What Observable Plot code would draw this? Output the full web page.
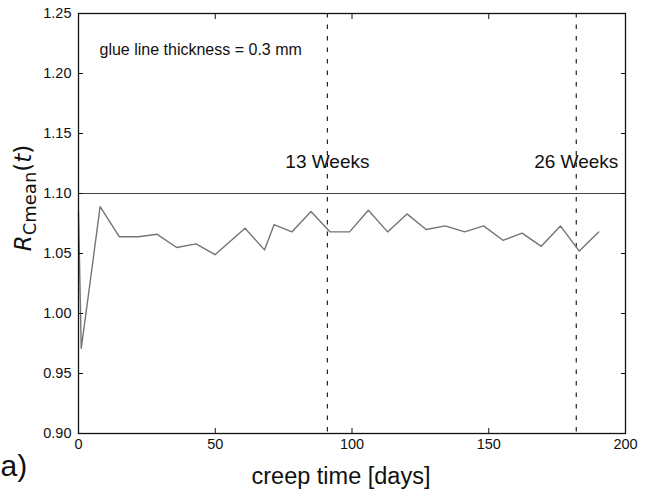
<!DOCTYPE html>
<html>
<head>
<meta charset="utf-8">
<script src="https://cdn.jsdelivr.net/npm/d3@7"></script>
<script src="https://cdn.jsdelivr.net/npm/@observablehq/plot@0.6"></script>
<style>
  html, body { margin: 0; padding: 0; background: #fff; }
</style>
</head>
<body>
<div id="chart"></div>
<script>
// ---- data ----
const days = [0, 1, 3.6, 7.9, 14.9, 21.9, 28.8, 35.9, 43.0, 49.9, 60.9, 68.0, 71.5, 78.0, 85.0, 92.0, 99.1, 106.0, 113.0, 120.1, 127.1, 134.1, 141.2, 148.1, 155.2, 162.2, 169.2, 176.2, 183.1, 190.2];
const rMean = [1.085, 0.971, 1.015, 1.089, 1.064, 1.064, 1.066, 1.055, 1.058, 1.049, 1.071, 1.053, 1.074, 1.068, 1.085, 1.068, 1.068, 1.086, 1.068, 1.083, 1.070, 1.073, 1.068, 1.073, 1.061, 1.067, 1.056, 1.073, 1.052, 1.068];
const refLevel = [1.10];
const weekDays = [91, 182];
const weekLabels = ["13 Weeks", "26 Weeks"];
const xTicks = [0, 50, 100, 150, 200];
const yTicks = [0.90, 0.95, 1.00, 1.05, 1.10, 1.15, 1.20, 1.25];
const annotation = ["glue line thickness = 0.3 mm"];
const xLabel = ["creep time [days]"];
const panelLabel = ["a)"];

const series = days.map((d, i) => ({day: d, r: rMean[i]}));
const weeks = weekDays.map((d, i) => ({day: d, label: weekLabels[i]}));

const chart = Plot.plot({
  width: 650,
  height: 497,
  marginLeft: 78,
  marginRight: 25,
  marginTop: 13,
  marginBottom: 64,
  style: {fontFamily: "'Liberation Sans', Arial, sans-serif", fontSize: "14.5px", color: "#111", background: "#fff"},
  x: {domain: [0, 200]},
  y: {domain: [0.90, 1.25]},
  marks: [
    Plot.ruleY(refLevel, {stroke: "#444", strokeWidth: 1.1}),
    Plot.ruleX(weekDays, {stroke: "#222", strokeWidth: 1.2, strokeDasharray: "4.5,7"}),
    Plot.line(series, {x: "day", y: "r", stroke: "#747474", strokeWidth: 1.4}),
    Plot.text(weeks, {x: "day", text: "label", frameAnchor: "top", dy: 141, fontSize: 19, fill: "#111"}),
    Plot.text(annotation, {text: d => d, frameAnchor: "top-left", dx: 21, dy: 30, textAnchor: "start", fontSize: 16, fill: "#111"}),
    Plot.axisX({ticks: xTicks, tickSize: -5, tickPadding: 10, tickFormat: d => String(d), label: null, fontSize: 14.5}),
    Plot.axisX({anchor: "top", ticks: xTicks, tickSize: -5, tickFormat: () => "", label: null}),
    Plot.axisY({ticks: yTicks, tickSize: -5, tickPadding: 12, tickFormat: d3.format(".2f"), label: null, fontSize: 14.5}),
    Plot.axisY({anchor: "right", ticks: yTicks, tickSize: -5, tickFormat: () => "", label: null}),
    Plot.frame({stroke: "#111", strokeWidth: 1.3}),
    Plot.text(xLabel, {text: d => d, frameAnchor: "bottom", dx: -11, dy: 50, fontSize: 23.5, fill: "#111"}),
    Plot.text(panelLabel, {text: d => d, frameAnchor: "bottom-left", dx: -78, dy: 42, textAnchor: "start", fontSize: 30, fill: "#111"})
  ]
});

document.getElementById("chart").appendChild(chart);

// y-axis label with italic R, subscript "Cmean", and italic t
const svg = d3.select(chart);
const lab = svg.append("text")
  .attr("transform", "translate(31,198) rotate(-90)")
  .attr("text-anchor", "middle")
  .attr("font-family", "'DejaVu Sans', sans-serif")
  .attr("font-size", 23)
  .attr("fill", "#111");
lab.append("tspan").attr("font-style", "italic").text("R");
lab.append("tspan").attr("font-size", 18).attr("dy", 5).text("Cmean");
lab.append("tspan").attr("dy", -5).text("(");
lab.append("tspan").attr("font-style", "italic").text("t");
lab.append("tspan").text(")");
</script>
</body>
</html>
